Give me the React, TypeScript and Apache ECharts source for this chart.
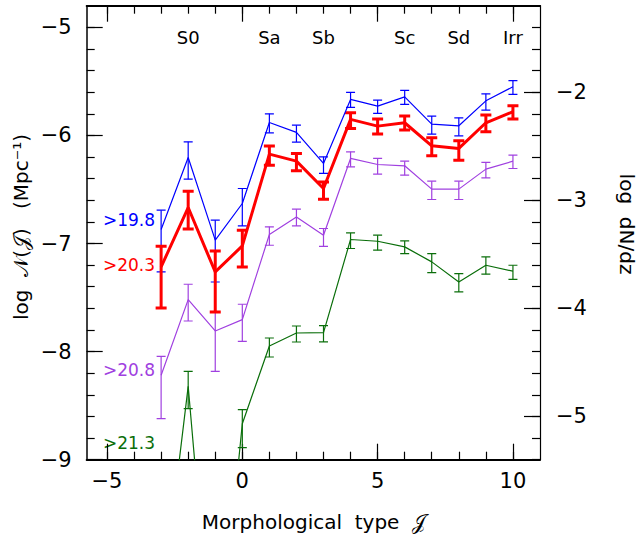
import React, { useEffect, useRef } from "react";
import * as echarts from "echarts";

// Morphological type values
const types = [-3, -2, -1, 0, 1, 2, 3, 4, 5, 6, 7, 8, 9, 10];

// >19.8 (blue)
const blueVal = [-6.87, -6.204, -6.969, -6.63, -5.88, -5.972, -6.259, -5.667, -5.729, -5.643, -5.895, -5.911, -5.68, -5.55];
const blueHi = [-6.692, -6.059, -6.784, -6.491, -5.8, -5.905, -6.198, -5.602, -5.673, -5.583, -5.821, -5.837, -5.615, -5.494];
const blueLo = [-7.263, -6.405, -7.356, -6.837, -5.976, -6.062, -6.352, -5.741, -5.796, -5.713, -5.988, -6.004, -5.766, -5.62];

// >20.3 (red)
const redVal = [-7.217, -6.667, -7.263, -7.022, -6.173, -6.238, -6.491, -5.852, -5.914, -5.883, -6.096, -6.12, -5.883, -5.781];
const redHi = [-7.025, -6.516, -7.069, -6.877, -6.099, -6.167, -6.43, -5.791, -5.849, -5.821, -6.022, -6.05, -5.812, -5.726];
const redLo = [-7.596, -6.865, -7.633, -7.217, -6.275, -6.328, -6.59, -5.935, -5.988, -5.951, -6.189, -6.229, -5.967, -5.849];

// >20.8 (purple)
const purpleVal = [-8.219, -7.519, -7.809, -7.704, -6.917, -6.754, -6.923, -6.213, -6.269, -6.281, -6.497, -6.497, -6.312, -6.238];
const purpleHi = [-8.044, -7.377, -7.633, -7.562, -6.846, -6.682, -6.861, -6.152, -6.213, -6.238, -6.423, -6.423, -6.25, -6.182];
const purpleLo = [-8.62, -7.717, -8.182, -7.905, -7.016, -6.837, -7.026, -6.291, -6.358, -6.368, -6.593, -6.593, -6.393, -6.306];

// >21.3 (green)
const greenVal = [-10.4, -8.321, -11.2, -8.667, -7.948, -7.828, -7.825, -6.963, -6.979, -7.031, -7.17, -7.356, -7.201, -7.256];
const greenHi = [-10.2, -8.182, -11.0, -8.537, -7.874, -7.763, -7.76, -6.902, -6.923, -6.976, -7.093, -7.278, -7.124, -7.201];
const greenLo = [-10.6, -8.528, -11.4, -8.889, -8.05, -7.911, -7.91, -7.046, -7.062, -7.093, -7.269, -7.448, -7.284, -7.331];

// Axis ticks & labels
const xMajorTicks = [-5, 0, 5, 10];
const xMinorTicks = [-5, -4, -3, -2, -1, 0, 1, 2, 3, 4, 5, 6, 7, 8, 9, 10];
const topLabelValues = [-2, 1, 3, 6, 8, 10];
const topLabelNames = ["S0", "Sa", "Sb", "Sc", "Sd", "Irr"];
const leftMajorTicks = [-9, -8, -7, -6, -5];
const leftMinorTicks = [-44, -43, -42, -41, -40, -39, -38, -37, -36, -35, -34, -33, -32, -31, -30, -29, -28, -27, -26, -25].map((v) => v / 5);
const rightMajorTicks = [-5, -4, -3, -2];
const rightMinorTicks = [-27, -26, -25, -24, -23, -22, -21, -20, -19, -18, -17, -16, -15, -14, -13, -12, -11, -10, -9, -8, -7].map((v) => v / 5);

const FONT = "DejaVu Sans";

const fmt = (v: number) => (v < 0 ? "\u2212" + Math.abs(v) : String(v));

export default function App() {
  const ref = useRef<HTMLDivElement>(null);
  useEffect(() => {
    if (!ref.current) return;
    const chart = echarts.init(ref.current, null, { renderer: "svg" });

    const groups = [
      { name: ">21.3", color: "#0a6e0a", width: 1.2, cap: 4.5, val: greenVal, lo: greenLo, hi: greenHi },
      { name: ">20.8", color: "#a040e0", width: 1.2, cap: 4.5, val: purpleVal, lo: purpleLo, hi: purpleHi },
      { name: ">19.8", color: "#0000ff", width: 1.2, cap: 4.5, val: blueVal, lo: blueLo, hi: blueHi },
      { name: ">20.3", color: "#ff0000", width: 3, cap: 5.5, val: redVal, lo: redLo, hi: redHi },
    ];

    const series: any[] = [];
    groups.forEach((g) => {
      series.push({
        type: "line",
        name: g.name,
        xAxisIndex: 0,
        yAxisIndex: 0,
        data: types.map((t, i) => [t, g.val[i]]),
        showSymbol: false,
        symbol: "none",
        clip: true,
        lineStyle: { color: g.color, width: g.width },
        itemStyle: { color: g.color },
        z: 3,
      });
      series.push({
        type: "custom",
        name: g.name + " err",
        xAxisIndex: 0,
        yAxisIndex: 0,
        clip: true,
        data: types.map((t, i) => [t, g.lo[i], g.hi[i]]),
        encode: { x: 0, y: [1, 2] },
        z: 3,
        renderItem: (params: any, api: any) => {
          const x = api.value(0);
          const pLo = api.coord([x, api.value(1)]);
          const pHi = api.coord([x, api.value(2)]);
          const style = { stroke: g.color, lineWidth: g.width };
          return {
            type: "group",
            children: [
              { type: "line", shape: { x1: pLo[0], y1: pLo[1], x2: pHi[0], y2: pHi[1] }, style },
              { type: "line", shape: { x1: pLo[0] - g.cap, y1: pLo[1], x2: pLo[0] + g.cap, y2: pLo[1] }, style },
              { type: "line", shape: { x1: pHi[0] - g.cap, y1: pHi[1], x2: pHi[0] + g.cap, y2: pHi[1] }, style },
            ],
          };
        },
      });
    });

    const tickStyle = { color: "#000", width: 1.2 };
    const baseX = { type: "value", min: -5.75, max: 11, splitLine: { show: false }, gridIndex: 0 };
    const baseLeftY = { type: "value", min: -9, max: -4.8, splitLine: { show: false }, position: "left" };
    const baseRightY = { type: "value", min: -5.4, max: -1.2, splitLine: { show: false }, position: "right" };

    chart.setOption({
      animation: false,
      backgroundColor: "#fff",
      grid: { left: 86.7, right: 102, top: 5.7, bottom: 78.3, containLabel: false, outerBoundsMode: "none" },
      xAxis: [
        {
          ...baseX,
          position: "bottom",
          axisLine: { show: true, onZero: false, lineStyle: { color: "#000", width: 2 } },
          axisTick: { show: true, inside: true, length: 16, customValues: xMajorTicks, lineStyle: tickStyle },
          axisLabel: {
            show: true,
            customValues: xMajorTicks,
            formatter: fmt,
            margin: 11,
            color: "#000",
            fontFamily: FONT,
            fontSize: 21,
          },
        },
        {
          ...baseX,
          position: "bottom",
          axisLine: { show: false, onZero: false },
          axisTick: { show: true, inside: true, length: 8, customValues: xMinorTicks, lineStyle: tickStyle },
          axisLabel: { show: false },
        },
        {
          ...baseX,
          position: "top",
          axisLine: { show: true, onZero: false, lineStyle: { color: "#000", width: 2 } },
          axisTick: { show: true, inside: true, length: 16, customValues: xMajorTicks, lineStyle: tickStyle },
          axisLabel: {
            show: true,
            inside: true,
            customValues: topLabelValues,
            formatter: (v: number) => topLabelNames[topLabelValues.indexOf(v)] ?? "",
            margin: 23,
            color: "#000",
            fontFamily: FONT,
            fontSize: 18,
          },
        },
        {
          ...baseX,
          position: "top",
          axisLine: { show: false, onZero: false },
          axisTick: { show: true, inside: true, length: 8, customValues: xMinorTicks, lineStyle: tickStyle },
          axisLabel: { show: false },
        },
      ],
      yAxis: [
        {
          ...baseLeftY,
          axisLine: { show: true, onZero: false, lineStyle: { color: "#000", width: 1.5 } },
          axisTick: { show: true, inside: true, length: 16, customValues: leftMajorTicks, lineStyle: tickStyle },
          axisLabel: {
            show: true,
            customValues: leftMajorTicks,
            formatter: fmt,
            margin: 15,
            color: "#000",
            fontFamily: FONT,
            fontSize: 21,
          },
        },
        {
          ...baseLeftY,
          axisLine: { show: false, onZero: false },
          axisTick: { show: true, inside: true, length: 8, customValues: leftMinorTicks, lineStyle: tickStyle },
          axisLabel: { show: false },
        },
        {
          ...baseRightY,
          axisLine: { show: true, onZero: false, lineStyle: { color: "#000", width: 1.2 } },
          axisTick: { show: true, inside: true, length: 16, customValues: rightMajorTicks, lineStyle: tickStyle },
          axisLabel: {
            show: true,
            customValues: rightMajorTicks,
            formatter: fmt,
            margin: 16,
            color: "#000",
            fontFamily: FONT,
            fontSize: 21,
          },
        },
        {
          ...baseRightY,
          axisLine: { show: false, onZero: false },
          axisTick: { show: true, inside: true, length: 8, customValues: rightMinorTicks, lineStyle: tickStyle },
          axisLabel: { show: false },
        },
      ],
      graphic: [
        {
          type: "text",
          x: 314,
          y: 522,
          style: { text: "Morphological  type  \u{1D4A5}", fontFamily: FONT, fontSize: 20, fill: "#000", align: "center", verticalAlign: "middle" },
        },
        {
          type: "text",
          x: 21,
          y: 227,
          rotation: Math.PI / 2,
          style: { text: "log  \u{1D4A9}(\u{1D4A5})   (Mpc\u207B\u00B9)", fontFamily: FONT, fontSize: 20, fill: "#000", align: "center", verticalAlign: "middle" },
        },
        {
          type: "text",
          x: 627,
          y: 224,
          rotation: -Math.PI / 2,
          style: { text: "log  dN/dz", fontFamily: FONT, fontSize: 20, fill: "#000", align: "center", verticalAlign: "middle" },
        },
        { type: "text", x: 155, y: 220, style: { text: ">19.8", fontFamily: FONT, fontSize: 17, fill: "#0000ff", align: "right", verticalAlign: "middle" } },
        { type: "text", x: 155, y: 265, style: { text: ">20.3", fontFamily: FONT, fontSize: 17, fill: "#ff0000", align: "right", verticalAlign: "middle" } },
        { type: "text", x: 155, y: 370, style: { text: ">20.8", fontFamily: FONT, fontSize: 17, fill: "#a040e0", align: "right", verticalAlign: "middle" } },
        { type: "text", x: 155, y: 443, style: { text: ">21.3", fontFamily: FONT, fontSize: 17, fill: "#0a6e0a", align: "right", verticalAlign: "middle" } },
      ],
      series,
    });
    return () => chart.dispose();
  }, []);
  return <div ref={ref} style={{ position: "fixed", left: 0, top: 0, width: 642, height: 538 }} />;
}
